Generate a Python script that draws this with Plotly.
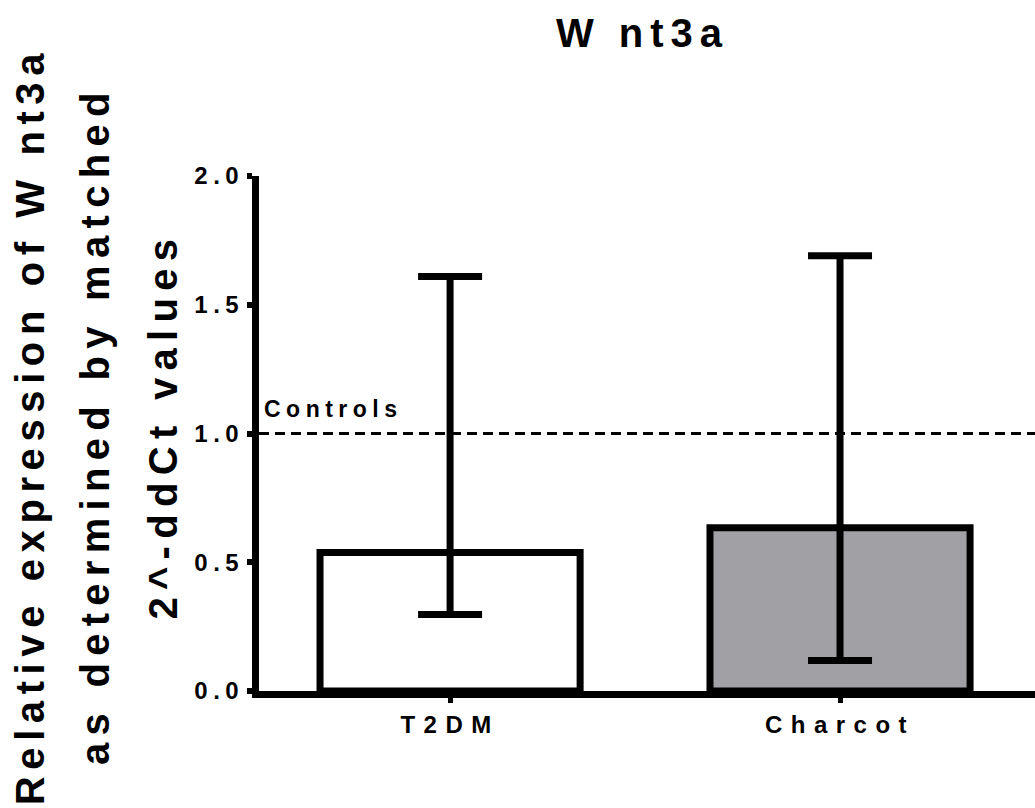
import plotly.graph_objects as go

# ---- data ----
categories = ["T2DM", "Charcot"]
means = [0.538, 0.634]
upper = [1.61, 1.69]
lower = [0.297, 0.118]
fills = ["#ffffff", "#a1a0a5"]
control_level = 1.0
control_label = "Controls"
y_tickvals = [0.0, 0.5, 1.0, 1.5, 2.0]
y_ticktext = ["0.0", "0.5", "1.0", "1.5", "2.0"]
title_text = "W nt3a"
ytitle_lines = ["Relative expression of W nt3a", "as determined by matched", "2^-ddCt values"]

err_plus = [u - m for u, m in zip(upper, means)]
err_minus = [m - l for m, l in zip(means, lower)]

FONT = "Liberation Sans, Arial, sans-serif"

fig = go.Figure(
    go.Bar(
        x=categories,
        y=means,
        width=0.667,
        marker=dict(color=fills, line=dict(color="black", width=7)),
        error_y=dict(
            type="data", symmetric=False, array=err_plus, arrayminus=err_minus,
            color="black", thickness=7, width=32,
        ),
        hoverinfo="skip",
    )
)

fig.add_shape(
    type="line", xref="paper", x0=0, x1=1, yref="y", y0=control_level, y1=control_level,
    line=dict(color="black", width=3, dash="10px,6px"), layer="below",
)

annotations = [
    dict(text=title_text, xref="paper", yref="paper", x=0.5, y=1, xanchor="center", yanchor="middle",
         xshift=-4, yshift=143, showarrow=False,
         font=dict(family=FONT, size=40, color="black", weight="bold")),
    dict(text=control_label, xref="paper", yref="y", x=0, y=control_level, xanchor="center", yanchor="bottom",
         xshift=74, yshift=10, showarrow=False,
         font=dict(family=FONT, size=23, color="black", weight="bold")),
]
line_x = [29, 94, 162]
for txt, px in zip(ytitle_lines, line_x):
    annotations.append(dict(
        text=txt, xref="paper", yref="paper", x=0, y=0.5, xanchor="center", yanchor="middle",
        xshift=px - 259, yshift=8, textangle=-90, showarrow=False,
        font=dict(family=FONT, size=40, color="black", weight="bold")))

fig.update_layout(
    width=1035, height=808,
    margin=dict(l=259, r=0, t=176, b=117),
    plot_bgcolor="white", paper_bgcolor="white",
    showlegend=False,
    annotations=annotations,
    xaxis=dict(
        type="category", range=[-0.49, 1.5], showline=True, linecolor="black", linewidth=7,
        ticks="outside", ticklen=5, tickwidth=5, tickcolor="black", showgrid=False,
        tickfont=dict(family=FONT, size=24, color="black", weight="bold"), ticklabelstandoff=1,
    ),
    yaxis=dict(
        range=[0, 2], tickvals=y_tickvals, ticktext=y_ticktext, showline=True, linecolor="black",
        linewidth=7, ticks="outside", ticklen=5, tickwidth=6, tickcolor="black", showgrid=False,
        zeroline=False, tickfont=dict(family=FONT, size=24, color="black", weight="bold"),
        ticklabelstandoff=-2,
    ),
)

css = (
    "html,body{margin:0 !important;padding:0 !important;overflow:hidden;}"
    ".ytick text{letter-spacing:5.5px !important;}"
    ".xtick text{letter-spacing:8.5px !important;}"
    ".annotation[data-index='0'] text{letter-spacing:7px !important;}"
    ".annotation[data-index='1'] text{letter-spacing:5.5px !important;}"
    ".annotation[data-index='2'] text{letter-spacing:6.6px !important;}"
    ".annotation[data-index='3'] text,.annotation[data-index='4'] text{letter-spacing:7.3px !important;}"
)
post = "var s=document.createElement('style');s.textContent=\"" + css + "\";document.head.appendChild(s);"

fig.write_html("out.html", post_script=post, config={"displayModeBar": False, "staticPlot": True})
